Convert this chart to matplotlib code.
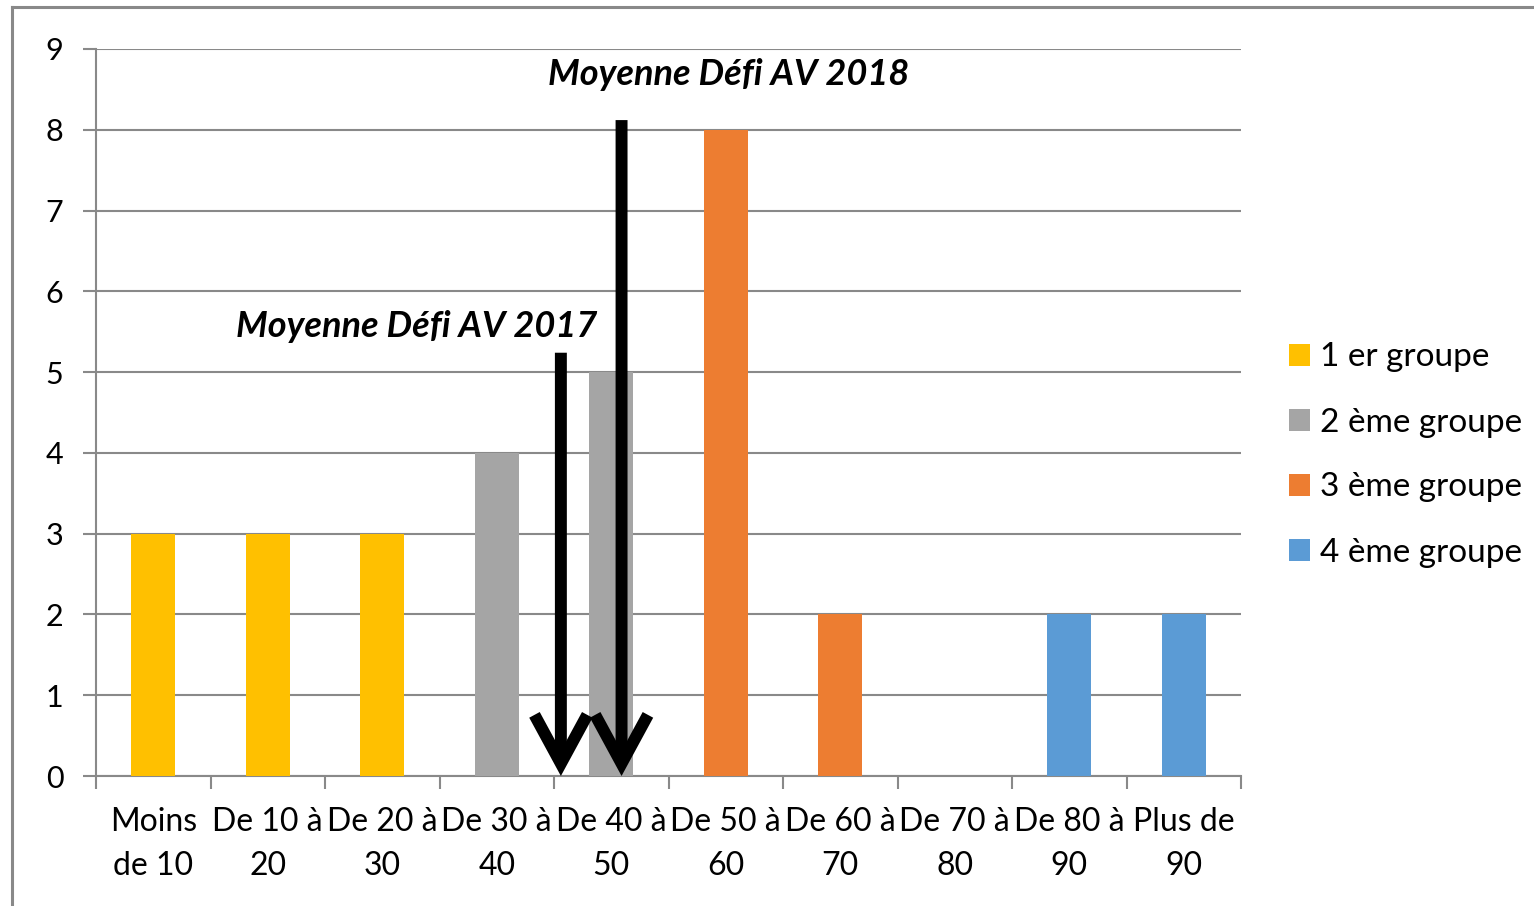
import numpy as np
import matplotlib
matplotlib.use('Agg')
import matplotlib.pyplot as plt
from matplotlib.lines import Line2D

plt.rcParams['font.family'] = ['Lato', 'DejaVu Sans']

# data
categories = ['Moins\nde 10', 'De 10 à\n20', 'De 20 à\n30', 'De 30 à\n40', 'De 40 à\n50',
              'De 50 à\n60', 'De 60 à\n70', 'De 70 à\n80', 'De 80 à\n90', 'Plus de\n90']
counts = [3, 3, 3, 4, 5, 8, 2, 0, 2, 2]
groups = [0, 0, 0, 1, 1, 2, 2, 2, 3, 3]
group_names = ['1 er groupe', '2 ème groupe', '3 ème groupe', '4 ème groupe']
group_colors = ['#FFC000', '#A5A5A5', '#ED7D31', '#5B9BD5']

# mean markers (x in category units, top of arrow in y units)
mean_labels = ['Moyenne Défi AV 2017', 'Moyenne Défi AV 2018']
mean_x = [3.56, 4.09]
mean_top = [5.24, 8.12]
label_pos = [(2.30, 5.57), (5.03, 8.68)]

fig = plt.figure(figsize=(15.34, 9.06), dpi=100)
ax = fig.add_axes([96/1534, 1 - 776/906, (1241-96)/1534, (776-49)/906])

x = np.arange(len(categories))
for g in range(4):
    idx = [i for i in range(len(counts)) if groups[i] == g]
    ax.bar(x[idx], [counts[i] for i in idx], width=0.385, color=group_colors[g],
           label=group_names[g], zorder=3)

gc = '#898989'
ax.set_ylim(0, 9)
ax.set_xlim(-0.5, 9.5)
ax.set_yticks(range(10))
ax.yaxis.grid(True, color=gc, lw=1.5, zorder=0)
for s in ['top', 'right']:
    ax.spines[s].set_visible(False)
for s in ['left', 'bottom']:
    ax.spines[s].set_color(gc)
    ax.spines[s].set_linewidth(1.5)
ax.tick_params(axis='y', length=9.5, width=1.5, color=gc, pad=14, labelsize=22)
ax.set_xticks(x)
ax.set_xticklabels(categories, fontsize=23, linespacing=1.6)
ax.set_xticks(np.arange(-0.5, 10, 1), minor=True)
ax.tick_params(axis='x', which='major', length=0, pad=22)
ax.tick_params(axis='x', which='minor', length=9.5, width=1.5, color=gc)

for lab, mx, mt, (tx, ty) in zip(mean_labels, mean_x, mean_top, label_pos):
    ax.annotate('', xy=(mx, 0), xytext=(mx, mt),
                arrowprops=dict(arrowstyle='->,head_length=1.75,head_width=0.95',
                                lw=8.6, color='black', mutation_scale=20,
                                capstyle='butt', joinstyle='miter',
                                shrinkA=0, shrinkB=0), zorder=5)
    ax.text(tx, ty, lab, ha='center', va='center', fontsize=26,
            fontweight='bold', fontstyle='italic', zorder=6)

ax.legend(loc='center left', bbox_to_anchor=(1259/1534, 1 - 455/906),
          bbox_transform=fig.transFigure, frameon=False, fontsize=24,
          handlelength=0.62, handleheight=0.62, handletextpad=0.3,
          labelspacing=1.05)

# chart frame (top and left edges visible)
fig.add_artist(Line2D([12/1534, 12/1534], [0, 1 - 7/906], color=gc, lw=2.2,
                      transform=fig.transFigure))
fig.add_artist(Line2D([12/1534, 1], [1 - 7/906, 1 - 7/906], color=gc, lw=2.2,
                      transform=fig.transFigure))

fig.savefig('out.png', dpi=100)
